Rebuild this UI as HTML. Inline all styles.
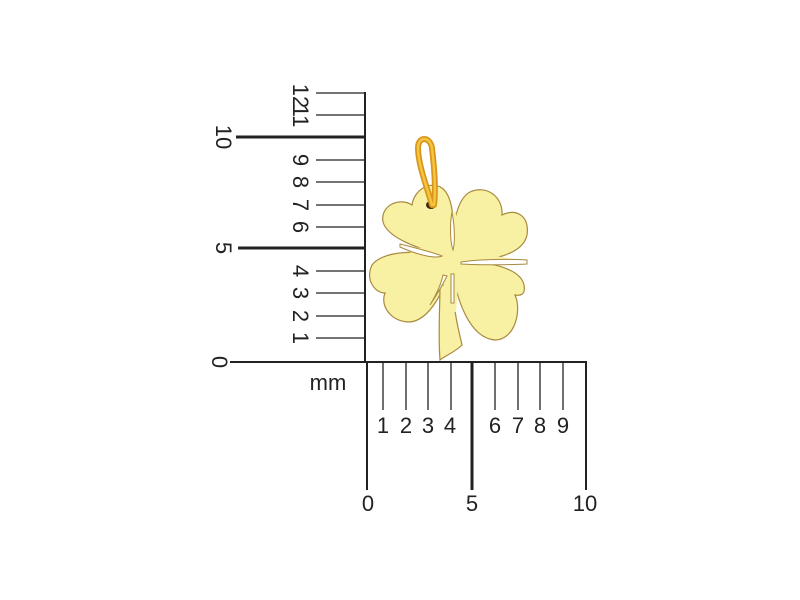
<!DOCTYPE html>
<html><head><meta charset="utf-8"><style>
html,body{margin:0;padding:0;background:#fff;width:800px;height:600px;overflow:hidden}
text{font-family:"Liberation Sans",sans-serif;fill:#222}
</style></head><body>
<svg width="800" height="600" viewBox="0 0 800 600" xmlns="http://www.w3.org/2000/svg">
<!-- clover -->
<g fill="#f8f0a2" stroke="#a88a40" stroke-width="1.2">
<path d="M450,258 C425,250 388,240 383,222 C380,205 400,197 412,205 C414,190 430,180 442,188 C455,198 455,230 450,258 Z"/>
<path d="M452,258 C452,230 455,200 470,192 C485,185 503,195 502,215 C515,208 530,215 527,235 C523,255 490,262 452,262 Z"/>
<path d="M452,258 C480,262 520,265 524,285 C526,295 520,296 515,295 C522,310 515,340 495,340 C470,338 455,300 452,262 Z"/>
<path d="M452,260 C430,250 385,248 372,265 C365,280 375,293 385,293 C380,305 390,322 410,322 C430,320 445,290 452,262 Z"/>
<path d="M440,285 L452,285 C455,320 460,335 462,345 C455,352 445,356 440,360 C438,335 440,305 440,285 Z"/>
</g>
<path d="M449,212 L456,212 L459,250 L526,261 L459,268 L456,312 L441,312 L445,272 L399,246 L447,250 Z" fill="#f8f0a2"/>
<g fill="#fff" stroke="#a88a40" stroke-width="1">
<path d="M452,212 C455,228 455,243 453,250 C451,245 449,228 452,212 Z"/>
<path d="M400,244 C420,249 435,253 442,256 C435,259 418,255 400,247 Z"/>
<path d="M461,262 C480,259 510,259 527,260 L527,264 C510,265 480,265 461,264 Z"/>
<path d="M443,275 C441,285 436,295 430,305 C436,296 442,286 447,276 Z"/>
<path d="M451,274 L454,274 L454,303 L451,303 Z"/>
</g>
<ellipse cx="431" cy="205" rx="5" ry="4" fill="#3a2a10"/>
<!-- ring -->
<path d="M432,205 C428,190 418,165 418,148 C418,136 430,136 432,148 C434,165 436,190 434,205" fill="none" stroke="#d9961c" stroke-width="6" stroke-linecap="round"/>
<path d="M432,205 C428,190 418,165 418,148 C418,136 430,136 432,148 C434,165 436,190 434,205" fill="none" stroke="#f5c440" stroke-width="2.5" stroke-linecap="round"/>
<!-- rulers -->
<g stroke="#222" fill="none">
<line x1="365" y1="92" x2="365" y2="362" stroke-width="2"/>
<line x1="367" y1="362" x2="367" y2="490" stroke-width="2"/>
<line x1="230" y1="362" x2="587" y2="362" stroke-width="2"/>
<line x1="586" y1="362" x2="586" y2="490" stroke-width="2"/>
<line x1="472" y1="362" x2="472" y2="490" stroke-width="3"/>
<g stroke-width="1.3">
<line x1="383" y1="362" x2="383" y2="410"/><line x1="406" y1="362" x2="406" y2="410"/>
<line x1="428" y1="362" x2="428" y2="410"/><line x1="451" y1="362" x2="451" y2="410"/>
<line x1="495" y1="362" x2="495" y2="410"/><line x1="518" y1="362" x2="518" y2="410"/>
<line x1="540" y1="362" x2="540" y2="410"/><line x1="563" y1="362" x2="563" y2="410"/>
<line x1="316" y1="338" x2="365" y2="338"/><line x1="316" y1="316" x2="365" y2="316"/>
<line x1="316" y1="293" x2="365" y2="293"/><line x1="316" y1="271" x2="365" y2="271"/>
<line x1="316" y1="227" x2="365" y2="227"/><line x1="316" y1="205" x2="365" y2="205"/>
<line x1="316" y1="182" x2="365" y2="182"/><line x1="316" y1="160" x2="365" y2="160"/>
<line x1="316" y1="115" x2="365" y2="115"/><line x1="316" y1="93" x2="365" y2="93"/>
</g>
<line x1="238" y1="248" x2="365" y2="248" stroke-width="3"/>
<line x1="236" y1="137" x2="365" y2="137" stroke-width="3"/>
</g>
<g font-size="22" text-anchor="middle">
<text x="383" y="433">1</text><text x="406" y="433">2</text><text x="428" y="433">3</text><text x="450" y="433">4</text>
<text x="495" y="433">6</text><text x="518" y="433">7</text><text x="540" y="433">8</text><text x="563" y="433">9</text>
<text x="368" y="511">0</text><text x="472" y="511">5</text><text x="585" y="511">10</text>
</g>
<text x="328" y="390" font-size="22" text-anchor="middle">mm</text>
<g font-size="22" text-anchor="middle">
<text transform="translate(293,338) rotate(90)">1</text>
<text transform="translate(293,316) rotate(90)">2</text>
<text transform="translate(293,293) rotate(90)">3</text>
<text transform="translate(293,271) rotate(90)">4</text>
<text transform="translate(293,227) rotate(90)">6</text>
<text transform="translate(293,205) rotate(90)">7</text>
<text transform="translate(293,182) rotate(90)">8</text>
<text transform="translate(293,160) rotate(90)">9</text>
<text transform="translate(293,116) rotate(90)">11</text>
<text transform="translate(293,96) rotate(90)">12</text>
<text transform="translate(216,137) rotate(90)">10</text>
<text transform="translate(216,248) rotate(90)">5</text>
<text transform="translate(212,362) rotate(90)">0</text>
</g>
</svg>
</body></html>
